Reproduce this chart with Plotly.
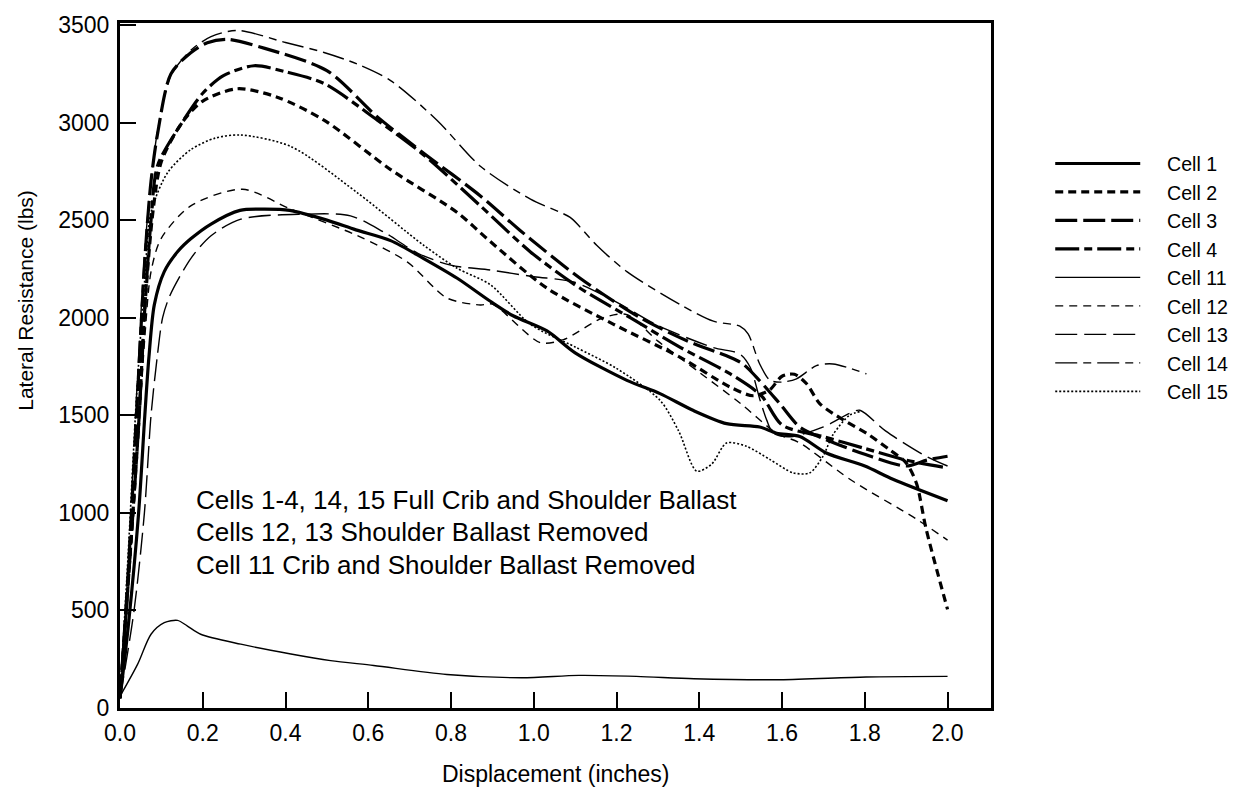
import plotly.graph_objects as go

# ---- data (displacement in inches, lateral resistance in lbs) ----
cell1_x = [0, 0.02, 0.045, 0.06, 0.07, 0.083, 0.107, 0.14, 0.171, 0.22, 0.29, 0.35, 0.41, 0.5, 0.57, 0.654, 0.734, 0.815, 0.895, 0.95, 1.032, 1.1, 1.225, 1.305, 1.386, 1.466, 1.546, 1.587, 1.643, 1.707, 1.8, 1.868, 2.0]
cell1_y = [50, 420, 1000, 1500, 1800, 2067, 2236, 2340, 2404, 2480, 2550, 2556, 2550, 2500, 2450, 2395, 2303, 2202, 2084, 2010, 1932, 1820, 1679, 1611, 1524, 1457, 1440, 1408, 1391, 1307, 1240, 1172, 1062]

cell2_x = [0, 0.02, 0.045, 0.06, 0.08, 0.1, 0.15, 0.2, 0.284, 0.38, 0.493, 0.654, 0.815, 0.895, 1.032, 1.193, 1.354, 1.474, 1.53, 1.57, 1.6, 1.63, 1.66, 1.691, 1.748, 1.804, 1.86, 1.9, 1.925, 1.948, 2.0]
cell2_y = [50, 650, 1450, 2050, 2550, 2800, 3000, 3110, 3173, 3130, 3012, 2759, 2539, 2390, 2151, 1966, 1797, 1645, 1600, 1630, 1700, 1710, 1660, 1560, 1476, 1408, 1323, 1256, 1150, 919, 505]

cell3_x = [0, 0.02, 0.04, 0.06, 0.075, 0.091, 0.123, 0.171, 0.211, 0.26, 0.35, 0.5, 0.622, 0.734, 0.871, 0.967, 1.112, 1.257, 1.37, 1.474, 1.506, 1.546, 1.595, 1.643, 1.7, 1.8, 1.9, 1.95, 2.0]
cell3_y = [50, 700, 1500, 2300, 2700, 2945, 3249, 3358, 3409, 3426, 3380, 3266, 3029, 2843, 2624, 2447, 2202, 2000, 1882, 1797, 1762, 1677, 1558, 1439, 1380, 1300, 1240, 1270, 1290]

cell4_x = [0, 0.02, 0.045, 0.06, 0.075, 0.091, 0.15, 0.2, 0.25, 0.324, 0.4, 0.493, 0.622, 0.734, 0.871, 0.992, 1.112, 1.233, 1.354, 1.474, 1.55, 1.6, 1.7, 1.8, 1.9, 2.0]
cell4_y = [50, 650, 1450, 2050, 2500, 2780, 3000, 3150, 3240, 3291, 3260, 3200, 3012, 2834, 2573, 2337, 2151, 2000, 1848, 1713, 1600, 1450, 1390, 1330, 1270, 1230]

cell11_x = [0, 0.043, 0.075, 0.107, 0.139, 0.163, 0.195, 0.292, 0.413, 0.509, 0.613, 0.79, 0.97, 1.109, 1.248, 1.387, 1.595, 1.803, 2.0]
cell11_y = [60, 226, 378, 437, 449, 420, 378, 327, 277, 243, 218, 172, 155, 167, 162, 150, 145, 159, 162]

cell12_x = [0, 0.02, 0.045, 0.06, 0.075, 0.099, 0.171, 0.296, 0.413, 0.573, 0.694, 0.79, 0.871, 0.9, 1.016, 1.072, 1.168, 1.225, 1.3, 1.4, 1.5, 1.587, 1.643, 1.764, 1.924, 2.0]
cell12_y = [50, 600, 1400, 1900, 2236, 2404, 2573, 2658, 2556, 2421, 2286, 2101, 2065, 2070, 1872, 1888, 2000, 2016, 1880, 1720, 1560, 1408, 1358, 1172, 969, 860]

cell13_x = [0, 0.034, 0.059, 0.075, 0.09, 0.103, 0.12, 0.171, 0.22, 0.292, 0.437, 0.557, 0.638, 0.72, 0.799, 0.895, 1.0, 1.096, 1.2, 1.3, 1.434, 1.498, 1.523, 1.547, 1.563, 1.579, 1.62, 1.7, 1.763, 1.788, 1.85, 1.948, 2.0]
cell13_y = [50, 500, 1000, 1500, 1800, 2000, 2110, 2303, 2420, 2505, 2530, 2522, 2438, 2330, 2269, 2244, 2210, 2183, 2080, 1960, 1847, 1814, 1746, 1577, 1475, 1408, 1390, 1440, 1510, 1526, 1420, 1290, 1240]

cell14_x = [0, 0.02, 0.04, 0.06, 0.075, 0.091, 0.123, 0.171, 0.22, 0.284, 0.4, 0.493, 0.573, 0.654, 0.766, 0.871, 0.992, 1.088, 1.112, 1.152, 1.225, 1.354, 1.434, 1.498, 1.518, 1.546, 1.571, 1.6, 1.635, 1.683, 1.723, 1.804]
cell14_y = [50, 750, 1600, 2350, 2700, 2960, 3240, 3370, 3440, 3472, 3410, 3359, 3300, 3215, 3012, 2776, 2607, 2514, 2464, 2371, 2236, 2067, 1982, 1957, 1917, 1763, 1679, 1670, 1687, 1754, 1763, 1712]

cell15_x = [0, 0.02, 0.04, 0.06, 0.075, 0.115, 0.171, 0.23, 0.292, 0.413, 0.573, 0.734, 0.815, 0.895, 0.992, 1.1, 1.2, 1.305, 1.35, 1.394, 1.43, 1.466, 1.514, 1.571, 1.627, 1.667, 1.699, 1.723, 1.763, 1.79]
cell15_y = [50, 800, 1600, 2200, 2540, 2743, 2861, 2920, 2936, 2877, 2641, 2371, 2253, 2169, 1966, 1850, 1740, 1577, 1420, 1214, 1250, 1358, 1341, 1273, 1205, 1205, 1290, 1400, 1500, 1520]

x_ticks = [0.0, 0.2, 0.4, 0.6, 0.8, 1.0, 1.2, 1.4, 1.6, 1.8, 2.0]
y_ticks = [0, 500, 1000, 1500, 2000, 2500, 3000, 3500]

notes = [
    "Cells 1-4, 14, 15 Full Crib and Shoulder Ballast",
    "Cells 12, 13 Shoulder Ballast Removed",
    "Cell 11 Crib and Shoulder Ballast Removed",
]
note_y = [1064, 902, 735]

series = [
    ("Cell 1", cell1_x, cell1_y, "solid", 3.2),
    ("Cell 2", cell2_x, cell2_y, "8px,5px", 3.2),
    ("Cell 3", cell3_x, cell3_y, "22px,6px", 3.2),
    ("Cell 4", cell4_x, cell4_y, "24px,5px,8px,5px", 3.2),
    ("Cell 11", cell11_x, cell11_y, "solid", 1.4),
    ("Cell 12", cell12_x, cell12_y, "8px,6px", 1.4),
    ("Cell 13", cell13_x, cell13_y, "22px,7px", 1.4),
    ("Cell 14", cell14_x, cell14_y, "22px,6px,8px,6px", 1.4),
    ("Cell 15", cell15_x, cell15_y, "2px,2px", 1.6),
]

PAD = "\u00a0" * 4

fig = go.Figure()
for name, xs, ys, dash, w in series:
    fig.add_trace(go.Scatter(
        x=xs, y=ys, mode="lines", name=PAD + name,
        line=dict(color="black", width=w, dash=dash, shape="spline", smoothing=0.8),
    ))

base_font = "Liberation Sans, Arial, Helvetica, sans-serif"

for txt, yv in zip(notes, note_y):
    fig.add_annotation(x=0.179, y=yv, xref="x", yref="y", text=txt, showarrow=False,
                       xanchor="left", yanchor="middle",
                       font=dict(family=base_font, size=26, color="black"))

# axis titles placed as annotations (pixel geometry: plot area 120..991 x 15..708)
fig.add_annotation(x=0.5, xref="paper", y=(795 - 775 - 87) / 693, yref="paper",
                   text="Displacement (inches)", showarrow=False,
                   xanchor="center", yanchor="middle",
                   font=dict(family=base_font, size=23, color="black"))
fig.add_annotation(x=(26 - 120) / 871, xref="paper", y=(708 - 296) / 693, yref="paper",
                   text="Lateral Resistance (lbs)", textangle=-90, showarrow=False,
                   xanchor="center", yanchor="middle",
                   font=dict(family=base_font, size=21, color="black"))

fig.update_layout(
    width=1248, height=795,
    margin=dict(l=120, r=257, t=15, b=87),
    paper_bgcolor="white", plot_bgcolor="white",
    font=dict(family=base_font, color="black"),
    showlegend=True,
    legend=dict(x=1.068, y=0.823, xanchor="left", yanchor="top",
                font=dict(family=base_font, size=19.6, color="black"),
                itemwidth=85, tracegroupgap=0, bgcolor="rgba(0,0,0,0)"),
)
fig.update_xaxes(range=[0, 2.105], tickvals=x_ticks, ticktext=[f"{v:.1f}" for v in x_ticks],
                 ticks="inside", ticklen=16, tickwidth=2, tickcolor="black",
                 showline=True, linewidth=3, linecolor="black", mirror=True,
                 showgrid=False, zeroline=False, ticklabelstandoff=2,
                 tickfont=dict(family=base_font, size=23, color="black"))
fig.update_yaxes(range=[0, 3510], tickvals=y_ticks, ticktext=[str(v) for v in y_ticks],
                 ticks="inside", ticklen=16, tickwidth=2, tickcolor="black",
                 showline=True, linewidth=3, linecolor="black", mirror=True,
                 showgrid=False, zeroline=False, ticklabelstandoff=3,
                 tickfont=dict(family=base_font, size=23, color="black"))

fig.write_html("out.html")
